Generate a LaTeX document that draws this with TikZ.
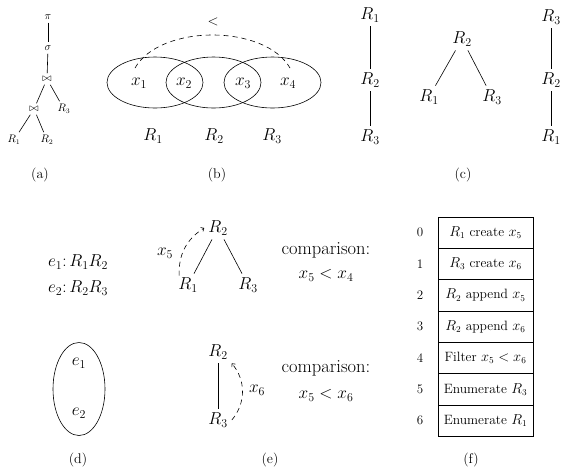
\documentclass[tikz,border=0pt]{standalone}
\usetikzlibrary{calc,arrows.meta}
\begin{document}
\begin{tikzpicture}[x=1pt,y=-1pt,
  big/.style={font=\fontsize{17.5}{21}\selectfont, inner sep=4pt},
  sm/.style={font=\fontsize{10.5}{12}\selectfont, inner sep=3pt},
  lab/.style={font=\fontsize{14}{16}\selectfont},
  num/.style={font=\fontsize{13}{15}\selectfont},
  cell/.style={draw, line width=0.6pt, minimum width=95pt, minimum height=31.3pt, inner sep=0pt, font=\fontsize{13.5}{15}\selectfont},
  edge/.style={line width=0.6pt},
  dashedarc/.style={line width=0.6pt, dash pattern=on 5pt off 4pt},
  arr/.style={-{To[length=3pt,width=5pt]}}
]
\useasboundingbox (0,0) rectangle (561,475);

% (a)
\node[sm] (pi) at (48,17) {$\pi$};
\node[sm] (sg) at (48,48) {$\sigma$};
\node[sm] (j1) at (47,79) {$\bowtie$};
\node[sm] (j2) at (34,109) {$\bowtie$};
\node[sm] (a3) at (64,109) {$R_3$};
\node[sm] (a1) at (14,140) {$R_1$};
\node[sm] (a2) at (47,140) {$R_2$};
\draw[edge] (pi) -- (sg);
\draw[edge] (sg) -- (j1);
\draw[edge] (j1) -- (j2);
\draw[edge] (j1) -- (a3);
\draw[edge] (j2) -- (a1);
\draw[edge] (j2) -- (a2);
\node[lab] (capa) at (40,175) {(a)};

% (b)
\draw[edge] (155,82.5) ellipse [x radius=48, y radius=25.5];
\draw[edge] (213.5,82.5) ellipse [x radius=47.5, y radius=25.5];
\draw[edge] (272.5,82.5) ellipse [x radius=48.5, y radius=25.5];
\node[big] (x1) at (139,83) {$x_1$};
\node[big] (x2) at (184,83) {$x_2$};
\node[big] (x3) at (243,83) {$x_3$};
\node[big] (x4) at (288,83) {$x_4$};
\node[big] (b1) at (153,136) {$R_1$};
\node[big] (b2) at (214,136) {$R_2$};
\node[big] (b3) at (272,136) {$R_3$};
\node[lab] (lt) at (213,22) {$<$};
\draw[dashedarc] ($(x1)+(-4,-15)$) .. controls ($(x1)+(21,-59)$) and ($(x4)+(-23,-59)$) .. ($(x4)+(2,-15)$);
\node[lab] (capb) at (217,175) {(b)};

% (c)
\node[big] (c1) at (370,15) {$R_1$};
\node[big] (c2) at (370,80) {$R_2$};
\node[big] (c3) at (370,137) {$R_3$};
\draw[edge] (c1) -- (c2);
\draw[edge] (c2) -- (c3);
\node[big] (t2) at (462,39) {$R_2$};
\node[big] (t1) at (429,97) {$R_1$};
\node[big] (t3) at (492,97) {$R_3$};
\draw[edge] (t2) -- (t1);
\draw[edge] (t2) -- (t3);
\node[big] (r3) at (551,17) {$R_3$};
\node[big] (r2) at (551,80) {$R_2$};
\node[big] (r1) at (551,137) {$R_1$};
\draw[edge] (r3) -- (r2);
\draw[edge] (r2) -- (r1);
\node[lab] (capc) at (463,175) {(c)};

% (d)
\node[big, font=\fontsize{17.5}{26}\selectfont, align=left] (edges) at (78,275) {$e_1\colon R_1R_2$\\$e_2\colon R_2R_3$};
\draw[edge] (79,389) ellipse [x radius=26, y radius=46.5];
\node[big] (e1) at (79,363) {$e_1$};
\node[big] (e2) at (79,413) {$e_2$};
\node[lab] (capd) at (78,460) {(d)};

% (e)
\node[big] (u2) at (218,228) {$R_2$};
\node[big] (u1) at (188,285) {$R_1$};
\node[big] (u3) at (248,285) {$R_3$};
\draw[edge] (u2) -- (u1);
\draw[edge] (u2) -- (u3);
\draw[dashedarc,arr] ([shift={(5,2)}]u1.north west) to[bend left=30] (u2.west);
\node[big] (x5) at (165,253) {$x_5$};
\node[big, align=center, font=\fontsize{18.5}{24}\selectfont] (cmp1) at (326,262) {comparison:\\$x_5 < x_4$};

\node[big] (v2) at (218,352) {$R_2$};
\node[big] (v3) at (218,420) {$R_3$};
\draw[edge] (v2) -- (v3);
\draw[dashedarc,arr] (v3.east) to[bend right=40] (v2.south east);
\node[big] (x6) at (257,390) {$x_6$};
\node[big, align=center, font=\fontsize{18.5}{26}\selectfont] (cmp2) at (326,381) {comparison:\\$x_5 < x_6$};
\node[lab] (cape) at (270,460) {(e)};

% (f)
\foreach \i/\t in {0/{$R_1$ create $x_5$},1/{$R_3$ create $x_6$},2/{$R_2$ append $x_5$},3/{$R_2$ append $x_6$},4/{Filter $x_5 < x_6$},5/{Enumerate $R_3$},6/{Enumerate $R_1$}}{
  \node[cell] (f\i) at (485.5,{217+31.3*(\i+0.5)}) {\t};
  \node[num] (n\i) at (420,{217+31.3*(\i+0.5)}) {\i};
}
\node[lab] (capf) at (471,460) {(f)};
\end{tikzpicture}
\end{document}
